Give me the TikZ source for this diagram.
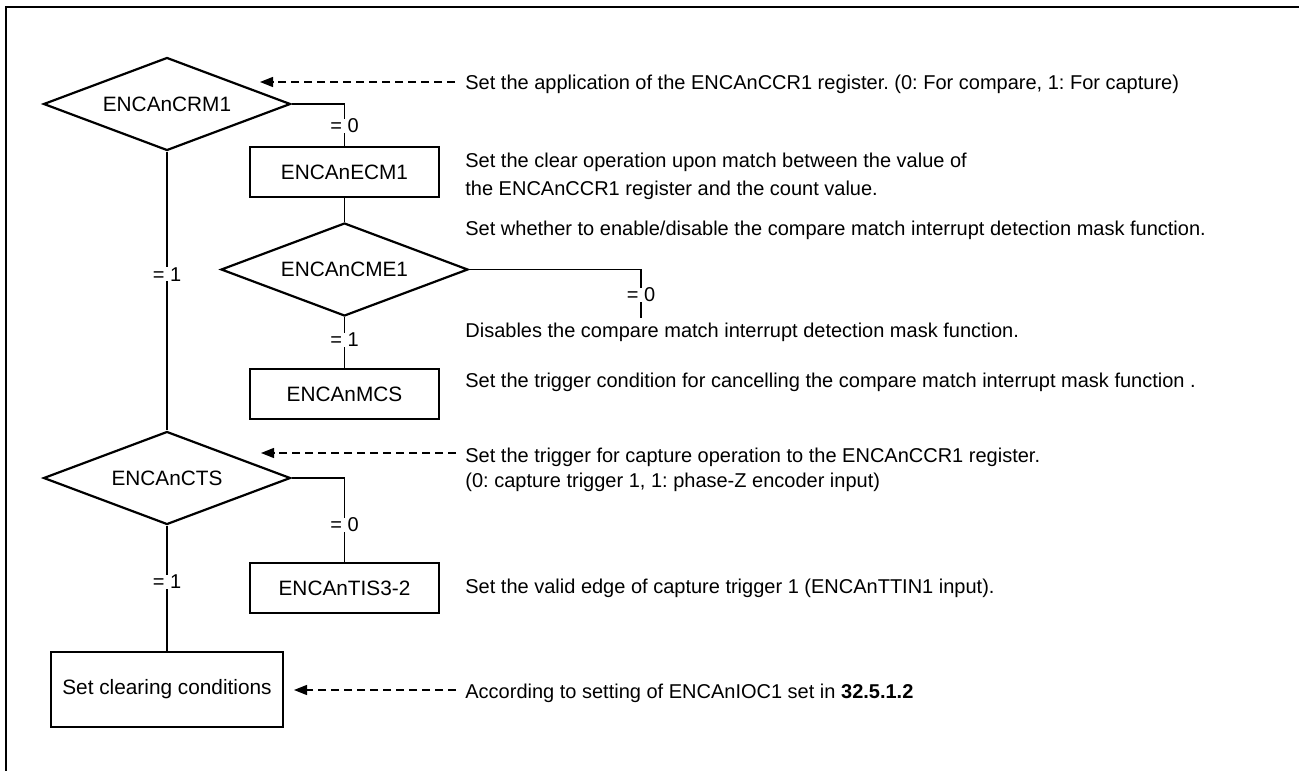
\documentclass[tikz,border=0pt]{standalone}
\usepackage{fontspec}
\setmainfont{Liberation Sans}
\usetikzlibrary{shapes.geometric,arrows.meta}
\frenchspacing
\begin{document}
\begin{tikzpicture}[x=0.5pt,y=-0.5pt,
  dia/.style={diamond,draw,line width=1.1pt,shape aspect=2.66,minimum width=123.5pt,minimum height=46.5pt,inner sep=0pt,font=\fontsize{10.4}{12}\selectfont},
  box/.style={rectangle,draw,line width=1.1pt,minimum width=94.5pt,minimum height=25pt,inner sep=0pt,font=\fontsize{10.4}{12}\selectfont},
  conn/.style={line width=0.85pt},
  lab/.style={fill=white,inner sep=0pt,font=\fontsize{10}{12}\selectfont},
  desc/.style={anchor=base west,inner sep=0pt,font=\fontsize{10}{12}\selectfont},
  dasharrow/.style={line width=0.65pt,dash pattern=on 4pt off 2.5pt,-{Triangle[length=6.5pt,width=5pt]}}
]
\useasboundingbox (0,0) rectangle (1299,771);
% frame
\coordinate (fr1) at (1299,7);
\coordinate (fr2) at (6,7);
\coordinate (fr3) at (6,771);
\draw[line width=1pt] (fr1) -- (fr2) -- (fr3);

% nodes
\node[dia] (crm) at (167,104) {ENCAnCRM1};
\node[box] (ecm) at (344.5,172) {ENCAnECM1};
\node[dia] (cme) at (344.5,269.5) {ENCAnCME1};
\node[box] (mcs) at (344.5,394) {ENCAnMCS};
\node[dia] (cts) at (167,478) {ENCAnCTS};
\node[box] (tis) at (344.5,588) {ENCAnTIS3-2};
\node[box,minimum width=116pt,minimum height=37.5pt] (clr) at (167,689.5) {Set clearing conditions};

% connectors
\coordinate (cmeend) at (641,318);
\draw[conn] (crm.east) -| (ecm.north) node[lab,pos=0.76] {= 0};
\draw[conn] (ecm.south) -- (cme.north);
\draw[conn] (cme.east) -| (cmeend) node[lab,pos=0.76] {= 0};
\draw[conn] (cme.south) -- (mcs.north) node[lab,pos=0.45] {= 1};
\draw[conn] (crm.south) -- (cts.north) node[lab,pos=0.44] {= 1};
\draw[conn] (cts.east) -| (tis.north) node[lab,pos=0.78] {= 0};
\draw[conn] (cts.south) -- (clr.north) node[lab,pos=0.45] {= 1};

% descriptions
\node[desc] (t1) at (465,89) {Set the application of the ENCAnCCR1 register. (0: For compare, 1: For capture)};
\node[desc] (t2) at (465,167) {Set the clear operation upon match between the value of};
\node[desc] (t3) at (465,195) {the ENCAnCCR1 register and the count value.};
\node[desc] (t4) at (465,235) {Set whether to enable/disable the compare match interrupt detection mask function.};
\node[desc] (t5) at (465,337) {Disables the compare match interrupt detection mask function.};
\node[desc] (t6) at (465,387) {Set the trigger condition for cancelling the compare match interrupt mask function .};
\node[desc] (t7) at (465,462) {Set the trigger for capture operation to the ENCAnCCR1 register.};
\node[desc] (t8) at (465,487) {(0: capture trigger 1, 1: phase-Z encoder input)};
\node[desc] (t9) at (465,593) {Set the valid edge of capture trigger 1 (ENCAnTTIN1 input).};
\node[desc] (t10) at (465,698) {According to setting of ENCAnIOC1 set in \textbf{32.5.1.2}};

% dashed arrows
\coordinate (a1s) at (455,82);
\coordinate (a1e) at (260,82);
\coordinate (a2s) at (456,453);
\coordinate (a2e) at (261,453);
\coordinate (a3s) at (456,690);
\coordinate (a3e) at (294,690);
\draw[dasharrow] (a1s) -- (a1e);
\draw[dasharrow] (a2s) -- (a2e);
\draw[dasharrow] (a3s) -- (a3e);
\end{tikzpicture}
\end{document}
